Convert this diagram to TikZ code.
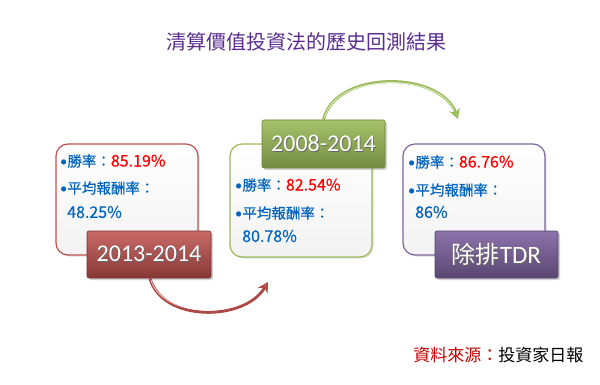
\documentclass[tikz,border=0pt]{standalone}
\usepackage{fontspec}
\setmainfont{Noto Sans CJK TC}
\newfontfamily\labfont{Carlito}
\newfontfamily\boxfont{Noto Sans CJK TC}[FakeBold=0.5]
\usetikzlibrary{arrows.meta,shadows}
\definecolor{titlepurple}{HTML}{5B2D90}
\definecolor{txtblue}{HTML}{0063BE}
\definecolor{numred}{HTML}{FF0000}
\definecolor{srcred}{HTML}{C00000}
\definecolor{rbord}{HTML}{C0504D}
\definecolor{gbord}{HTML}{9BBB59}
\definecolor{pbord}{HTML}{8064A2}
\tikzset{
  infobox/.style={draw, line width=1.2pt, rounded corners=12pt, top color=white, bottom color=black!5,
    drop shadow={shadow xshift=1.5pt, shadow yshift=-1.5pt, opacity=0.25}},
  labelbox/.style={rounded corners=2pt, text=white, font=\fontsize{24}{26}\selectfont,
    drop shadow={shadow xshift=2pt, shadow yshift=-2pt, opacity=0.35}, inner sep=0pt},
  line/.style={anchor=west, inner sep=0pt, font=\fontsize{14.5}{16}\boxfont, text=txtblue},
  curvearrow/.style={line width=3pt, -{Stealth[length=10pt,width=11pt,open]}},
  hilite/.style={line width=0.8pt, white, opacity=0.7},
}
\newcommand{\bul}{{\labfont •}}
\newcommand{\numtxt}[1]{{\fontsize{16}{16}\selectfont #1}}
\newcommand{\labtxt}[1]{\textcolor{black!60}{\rlap{\hspace{0.8pt}\raisebox{-0.8pt}{#1}}}#1}
\begin{document}
\begin{tikzpicture}[x=1pt,y=-1pt]
\useasboundingbox[fill=white] (0,0) rectangle (600,385);
% title
\node[text=titlepurple, font=\fontsize{20}{22}\selectfont] (title) at (306.5,42) {清算價值投資法的歷史回測結果};
% boxes
\node[infobox, draw=rbord, minimum width=142pt, minimum height=111pt] (box1) at (127,199.5) {};
\node[infobox, draw=gbord, minimum width=142pt, minimum height=113pt] (box2) at (301,200.5) {};
\node[infobox, draw=pbord, minimum width=142pt, minimum height=111pt] (box3) at (474,199.5) {};
% texts box1
\node[line] (b1l1) at (60,161) {\bul 勝率：\textcolor{numred}{\numtxt{85.19\%}}};
\node[line] (b1l2) at (60,188) {\bul 平均報酬率：};
\node[line] (b1l3) at (67,212) {\numtxt{48.25\%}};
% texts box2
\node[line] (b2l1) at (235,185) {\bul 勝率：\textcolor{numred}{\numtxt{82.54\%}}};
\node[line] (b2l2) at (235,213) {\bul 平均報酬率：};
\node[line] (b2l3) at (242,236) {\numtxt{80.78\%}};
% texts box3
\node[line] (b3l1) at (408,162) {\bul 勝率：\textcolor{numred}{\numtxt{86.76\%}}};
\node[line] (b3l2) at (408,190) {\bul 平均報酬率：};
\node[line] (b3l3) at (415,212) {\numtxt{86\%}};
% labels
\node[labelbox, top color=rbord!85!white, bottom color=rbord!70!black, draw=rbord!60!black, line width=0.6pt,
  minimum width=124pt, minimum height=47pt] (lab1) at (149,254.5) {\labfont\labtxt{2013-2014}};
\node[labelbox, top color=gbord!90!white, bottom color=gbord!75!black, draw=gbord!70!black, line width=0.6pt,
  minimum width=123pt, minimum height=48pt] (lab2) at (323.5,144) {\labfont\labtxt{2008-2014}};
\node[labelbox, top color=pbord!90!white, bottom color=pbord!70!black, draw=pbord!65!black, line width=0.6pt,
  minimum width=123pt, minimum height=47pt] (lab3) at (496.5,254.5) {\labtxt{除排{\labfont\fontsize{25}{26}\selectfont TDR}}};
% arrows
\coordinate (r1) at (268,282);
\coordinate (g1) at (458,119);
\draw[curvearrow, draw=rbord!90!black] ([xshift=1pt]lab1.south) .. controls (162,322) and (244,322) .. (r1);
\draw[hilite] ([xshift=2pt,yshift=-2pt]lab1.south) .. controls (163,319) and (243,319) .. (262,288);
\draw[curvearrow, draw=gbord] (lab2.north) .. controls (335,70) and (440,70) .. (g1);
\draw[hilite] ([xshift=1pt,yshift=2pt]lab2.north) .. controls (336,72) and (439,72) .. (454,111);
% source
\node[anchor=east, font=\fontsize{17}{20}\selectfont] (src) at (587,355) {\textcolor{srcred}{資料來源：}投資家日報};
\end{tikzpicture}
\end{document}
